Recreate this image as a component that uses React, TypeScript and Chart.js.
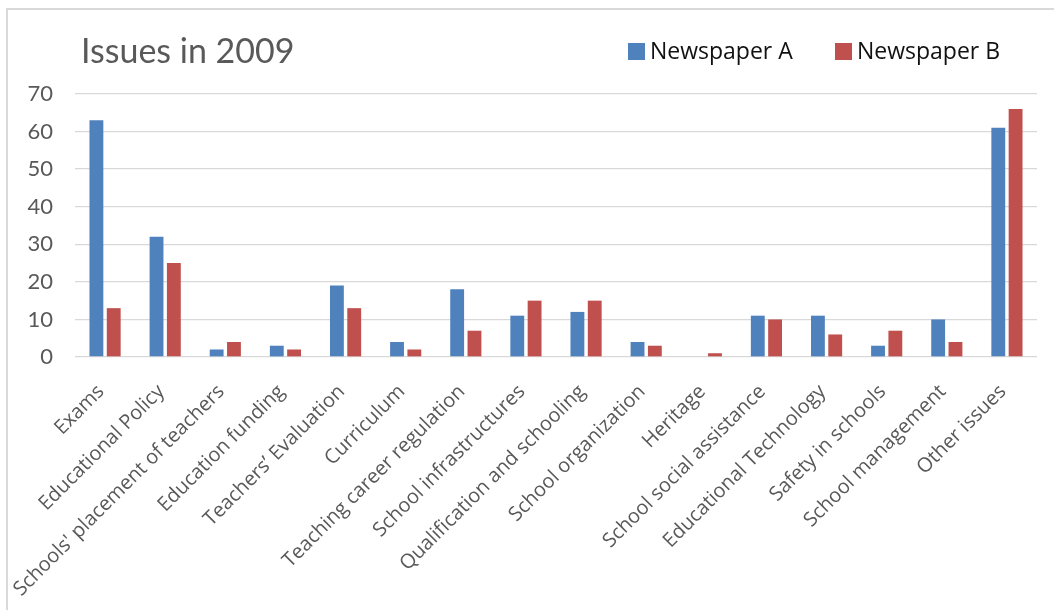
import React, { useEffect, useRef } from "react";
import { Chart, registerables } from "chart.js";

Chart.register(...registerables);

const categories = [
  "Exams",
  "Educational Policy",
  "Schools' placement of teachers",
  "Education funding",
  "Teachers’ Evaluation",
  "Curriculum",
  "Teaching career regulation",
  "School infrastructures",
  "Qualification and schooling",
  "School organization",
  "Heritage",
  "School social assistance",
  "Educational Technology",
  "Safety in schools",
  "School management",
  "Other issues",
];

const newspaperA = [63, 32, 2, 3, 19, 4, 18, 11, 12, 4, 0, 11, 11, 3, 10, 61];
const newspaperB = [13, 25, 4, 2, 13, 2, 7, 15, 15, 3, 1, 10, 6, 7, 4, 66];

const seriesNames = ["Newspaper A", "Newspaper B"];
const seriesColors = ["#4F81BD", "#C0504D"];
const chartTitle = "Issues in 2009";

const yMin = 0;
const yMax = 70;
const yStep = 10;

const TEXT = "#595959";

const headerPlugin = {
  id: "header",
  afterDraw(chart: any) {
    const ctx = chart.ctx;
    ctx.save();
    ctx.fillStyle = TEXT;
    ctx.textBaseline = "alphabetic";
    ctx.textAlign = "left";
    ctx.font = "34px 'Lato', sans-serif";
    ctx.fillText(chartTitle, 81, 63);

    const items = [
      { x: 628, name: seriesNames[0], color: seriesColors[0] },
      { x: 835, name: seriesNames[1], color: seriesColors[1] },
    ];
    ctx.font = "23px 'Open Sans', sans-serif";
    items.forEach((it) => {
      ctx.fillStyle = it.color;
      ctx.fillRect(it.x, 43, 17, 17);
      ctx.fillStyle = "#111";
      ctx.fillText(it.name, it.x + 22, 59);
    });
    ctx.restore();
  },
};

export default function App() {
  const ref = useRef<HTMLCanvasElement | null>(null);

  useEffect(() => {
    if (!ref.current) return;
    const chart = new Chart(ref.current, {
      type: "bar",
      data: {
        labels: categories,
        datasets: [
          {
            label: seriesNames[0],
            data: newspaperA,
            backgroundColor: seriesColors[0],
            categoryPercentage: 0.576,
            barPercentage: 0.8,
          },
          {
            label: seriesNames[1],
            data: newspaperB,
            backgroundColor: seriesColors[1],
            categoryPercentage: 0.576,
            barPercentage: 0.8,
          },
        ],
      },
      options: {
        animation: false,
        responsive: false,
        maintainAspectRatio: false,
        layout: { padding: { top: 94, right: 18, left: 0, bottom: 0 } },
        plugins: {
          legend: { display: false },
          title: { display: false },
          tooltip: { enabled: false },
        },
        scales: {
          x: {
            grid: { display: false },
            border: { display: false },
            ticks: {
              color: TEXT,
              font: { family: "'Open Sans', sans-serif", size: 20 },
              maxRotation: 45,
              minRotation: 45,
              autoSkip: false,
              padding: 15,
              labelOffset: -4,
            },
            afterFit: (s: any) => {
              s.height = 253;
            },
          },
          y: {
            min: yMin,
            max: yMax,
            border: { display: false },
            grid: { color: "#d9d9d9", lineWidth: 1.3, drawTicks: false },
            ticks: {
              stepSize: yStep,
              color: TEXT,
              padding: 22,
              font: { family: "'Lato', sans-serif", size: 22 },
            },
            afterFit: (s: any) => {
              s.width = 75;
            },
          },
        },
      },
      plugins: [headerPlugin],
    });
    return () => chart.destroy();
  }, []);

  return (
    <div style={{ position: "absolute", left: 0, top: 0, width: 1055, height: 610, background: "#fff", overflow: "hidden" }}>
      <div
        style={{
          position: "absolute",
          left: 6,
          top: 8,
          width: 1046,
          height: 700,
          borderTop: "2px solid #d9d9d9",
          borderLeft: "2px solid #d9d9d9",
        }}
      />
      <canvas ref={ref} width={1055} height={610} style={{ position: "absolute", left: 0, top: 0 }} />
    </div>
  );
}
